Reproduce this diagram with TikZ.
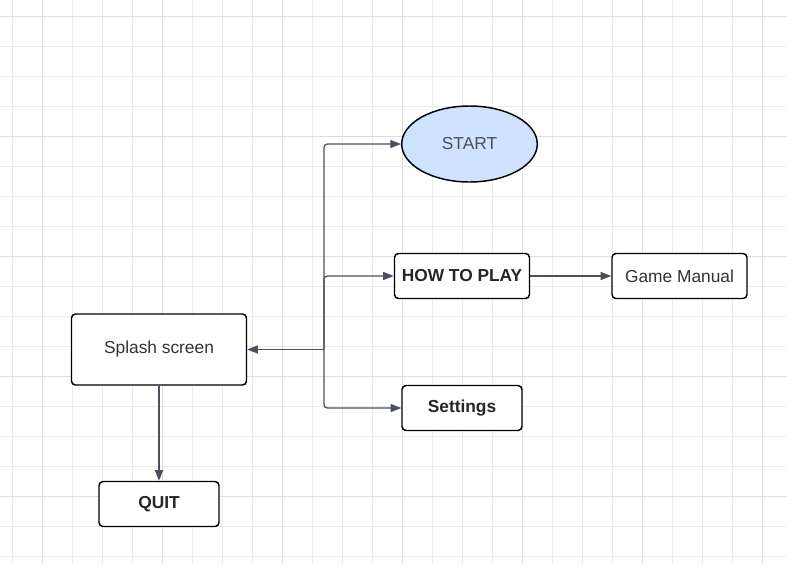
\documentclass[tikz,border=0pt]{standalone}
\usepackage{fontspec}
\setmainfont{Liberation Sans}
\usetikzlibrary{arrows.meta,shapes.geometric}
\definecolor{gridlt}{HTML}{EBEBEB}
\definecolor{griddk}{HTML}{DDDDDD}
\definecolor{wire}{HTML}{4A505C}
\definecolor{startblue}{HTML}{CFE2FF}
\definecolor{txt}{HTML}{333333}
\begin{document}
\begin{tikzpicture}[x=0.75pt,y=-0.75pt,>={Triangle[length=8pt,width=6pt]},
  screen/.style={draw=black,line width=1.1pt,rounded corners=3pt,fill=white,
    minimum height=33.75pt,font=\fontsize{13}{15}\selectfont,text=txt},
  bold/.style={font=\fontsize{13}{15}\selectfont\bfseries,text=black!85},
  wirestyle/.style={draw=wire,line width=0.9pt,rounded corners=2.5pt}]
  \useasboundingbox (0,0) rectangle (787,565);
  \fill[white] (0,0) rectangle (787,565);
  % grid
  \foreach \x in {12,42,...,762} \draw[gridlt,line width=0.75pt] (\x,0) -- (\x,565);
  \foreach \y in {16,46,...,556} \draw[gridlt,line width=0.75pt] (0,\y) -- (787,\y);
  \foreach \x in {42,162,...,762} \draw[griddk,line width=0.75pt] (\x,0) -- (\x,565);
  \foreach \y in {16,136,...,496} \draw[griddk,line width=0.75pt] (0,\y) -- (787,\y);
  % screens
  \node[screen,minimum width=131.25pt,minimum height=53.25pt] (splash) at (159,349.5) {Splash screen};
  \node[ellipse,draw=black,line width=1.1pt,fill=startblue,minimum width=101.7pt,minimum height=57pt,
    font=\fontsize{13}{15}\selectfont,text=wire] (start) at (469.5,144) {START};
  \node[screen,bold,minimum width=101.25pt] (howto) at (462,276) {HOW TO PLAY};
  \node[screen,minimum width=101.25pt] (manual) at (679.5,276) {Game Manual};
  \node[screen,bold,minimum width=90pt] (settings) at (462,408) {Settings};
  \node[screen,bold,minimum width=90pt] (quit) at (159,504) {QUIT};
  % connectors
  \coordinate (hub) at (324,349.5);
  \draw[wirestyle,->] (hub) |- (start.west);
  \draw[wirestyle,->] (hub) |- (howto.west);
  \draw[wirestyle,->] (hub) |- (settings.west);
  \draw[wirestyle,->] (hub) -- (splash.east);
  \draw[wirestyle,->] (howto.east) -- (manual.west);
  \draw[wirestyle,->] (splash.south) -- (quit.north);
\end{tikzpicture}
\end{document}
